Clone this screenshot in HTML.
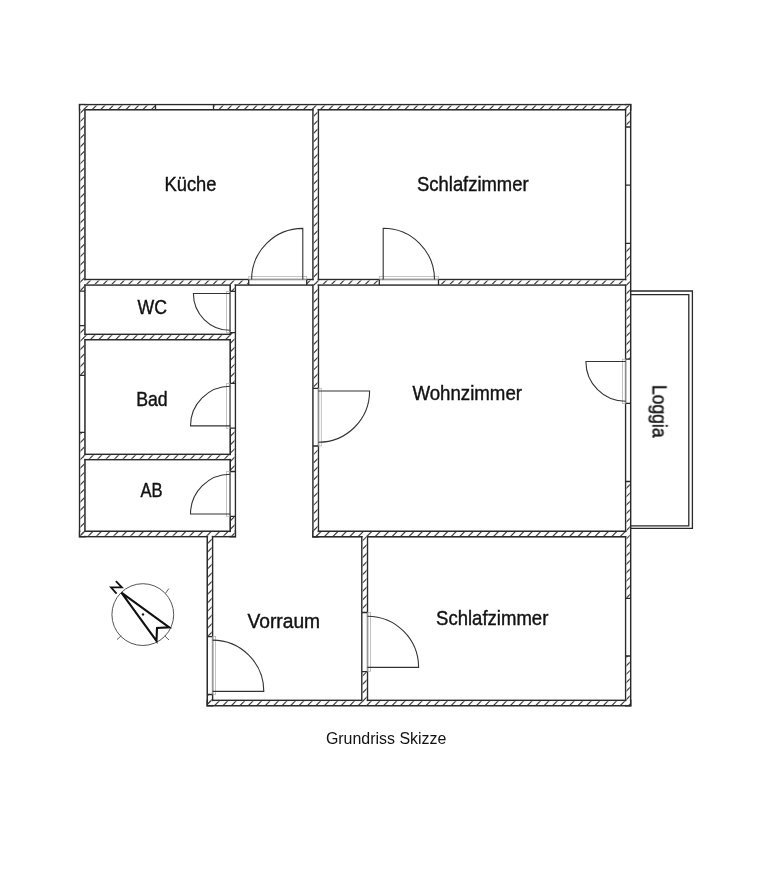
<!DOCTYPE html><html><head><meta charset="utf-8"><style>html,body{margin:0;padding:0;background:#fff;width:776px;height:894px;overflow:hidden}svg{position:absolute;left:0;top:0}</style></head><body><svg width="776" height="894" viewBox="0 0 776 894"><defs><clipPath id="c0"><rect x="80.45" y="105.50" width="75.05" height="3.45"/><rect x="213.50" y="105.50" width="416.30" height="3.45"/></clipPath><clipPath id="c1"><rect x="80.45" y="105.50" width="3.65" height="185.70"/><rect x="80.45" y="325.70" width="3.65" height="49.70"/><rect x="80.45" y="432.40" width="3.65" height="103.40"/></clipPath><clipPath id="c2"><rect x="626.50" y="105.50" width="3.30" height="21.50"/><rect x="626.50" y="243.40" width="3.30" height="115.80"/><rect x="626.50" y="481.50" width="3.30" height="116.80"/><rect x="626.50" y="656.00" width="3.30" height="48.90"/></clipPath><clipPath id="c3"><rect x="208.10" y="701.20" width="421.70" height="3.70"/></clipPath><clipPath id="c4"><rect x="80.45" y="532.10" width="154.05" height="3.70"/></clipPath><clipPath id="c5"><rect x="208.10" y="534.80" width="3.60" height="101.80"/><rect x="208.10" y="694.50" width="3.60" height="10.40"/></clipPath><clipPath id="c6"><rect x="313.80" y="108.00" width="3.70" height="173.50"/></clipPath><clipPath id="c7"><rect x="83.10" y="280.40" width="165.60" height="3.80"/><rect x="306.70" y="280.40" width="72.60" height="3.80"/><rect x="438.50" y="280.40" width="188.80" height="3.80"/></clipPath><clipPath id="c8"><rect x="231.00" y="283.10" width="3.50" height="8.30"/><rect x="231.00" y="332.60" width="3.50" height="50.80"/><rect x="231.00" y="428.20" width="3.50" height="43.30"/><rect x="231.00" y="516.30" width="3.50" height="19.50"/></clipPath><clipPath id="c9"><rect x="313.80" y="283.10" width="3.75" height="105.20"/><rect x="313.80" y="446.00" width="3.75" height="90.00"/></clipPath><clipPath id="c10"><rect x="83.10" y="335.20" width="148.85" height="3.70"/></clipPath><clipPath id="c11"><rect x="83.10" y="455.20" width="148.85" height="3.60"/></clipPath><clipPath id="c12"><rect x="313.80" y="532.10" width="313.50" height="3.90"/></clipPath><clipPath id="c13"><rect x="362.70" y="534.85" width="3.90" height="77.65"/><rect x="362.70" y="671.60" width="3.90" height="30.65"/></clipPath></defs><rect width="776" height="894" fill="#fff"/><g fill="none" stroke="#2a2a2a" stroke-width="1.6"><rect x="79.65" y="104.70" width="550.95" height="5.05"/><rect x="79.65" y="104.70" width="5.25" height="431.90"/><rect x="625.70" y="104.70" width="4.90" height="601.00"/><rect x="207.30" y="700.40" width="423.30" height="5.30"/><rect x="79.65" y="531.30" width="155.65" height="5.30"/><rect x="207.30" y="534.00" width="5.20" height="171.70"/><rect x="313.00" y="107.20" width="5.30" height="175.10"/><rect x="82.30" y="279.60" width="545.80" height="5.40"/><rect x="230.20" y="282.30" width="5.10" height="254.30"/><rect x="313.00" y="282.30" width="5.35" height="254.50"/><rect x="82.30" y="334.40" width="150.45" height="5.30"/><rect x="82.30" y="454.40" width="150.45" height="5.20"/><rect x="313.00" y="531.30" width="315.10" height="5.50"/><rect x="361.90" y="534.05" width="5.50" height="169.00"/></g><g fill="#fff"><rect x="80.45" y="105.50" width="549.35" height="3.45"/><rect x="80.45" y="105.50" width="3.65" height="430.30"/><rect x="626.50" y="105.50" width="3.30" height="599.40"/><rect x="208.10" y="701.20" width="421.70" height="3.70"/><rect x="80.45" y="532.10" width="154.05" height="3.70"/><rect x="208.10" y="534.80" width="3.60" height="170.10"/><rect x="313.80" y="108.00" width="3.70" height="173.50"/><rect x="83.10" y="280.40" width="544.20" height="3.80"/><rect x="231.00" y="283.10" width="3.50" height="252.70"/><rect x="313.80" y="283.10" width="3.75" height="252.90"/><rect x="83.10" y="335.20" width="148.85" height="3.70"/><rect x="83.10" y="455.20" width="148.85" height="3.60"/><rect x="313.80" y="532.10" width="313.50" height="3.90"/><rect x="362.70" y="534.85" width="3.90" height="167.40"/></g><g fill="none" stroke="#444" stroke-width="1.2"><path clip-path="url(#c0)" d="M56.20,111.75L65.25,102.70M64.65,111.75L73.70,102.70M73.11,111.75L82.16,102.70M81.56,111.75L90.61,102.70M90.01,111.75L99.06,102.70M98.46,111.75L107.51,102.70M106.91,111.75L115.96,102.70M115.36,111.75L124.41,102.70M123.82,111.75L132.87,102.70M132.27,111.75L141.32,102.70M140.72,111.75L149.77,102.70M149.17,111.75L158.22,102.70M157.62,111.75L166.67,102.70M166.07,111.75L175.12,102.70M174.53,111.75L183.58,102.70M182.98,111.75L192.03,102.70M191.43,111.75L200.48,102.70M199.88,111.75L208.93,102.70M208.33,111.75L217.38,102.70M216.78,111.75L225.83,102.70M225.24,111.75L234.29,102.70M233.69,111.75L242.74,102.70M242.14,111.75L251.19,102.70M250.59,111.75L259.64,102.70M259.04,111.75L268.09,102.70M267.49,111.75L276.54,102.70M275.95,111.75L285.00,102.70M284.40,111.75L293.45,102.70M292.85,111.75L301.90,102.70M301.30,111.75L310.35,102.70M309.75,111.75L318.80,102.70M318.21,111.75L327.26,102.70M326.66,111.75L335.71,102.70M335.11,111.75L344.16,102.70M343.56,111.75L352.61,102.70M352.01,111.75L361.06,102.70M360.46,111.75L369.51,102.70M368.92,111.75L377.97,102.70M377.37,111.75L386.42,102.70M385.82,111.75L394.87,102.70M394.27,111.75L403.32,102.70M402.72,111.75L411.77,102.70M411.17,111.75L420.22,102.70M419.63,111.75L428.68,102.70M428.08,111.75L437.13,102.70M436.53,111.75L445.58,102.70M444.98,111.75L454.03,102.70M453.43,111.75L462.48,102.70M461.88,111.75L470.93,102.70M470.34,111.75L479.39,102.70M478.79,111.75L487.84,102.70M487.24,111.75L496.29,102.70M495.69,111.75L504.74,102.70M504.14,111.75L513.19,102.70M512.59,111.75L521.64,102.70M521.05,111.75L530.10,102.70M529.50,111.75L538.55,102.70M537.95,111.75L547.00,102.70M546.40,111.75L555.45,102.70M554.85,111.75L563.90,102.70M563.30,111.75L572.35,102.70M571.76,111.75L580.81,102.70M580.21,111.75L589.26,102.70M588.66,111.75L597.71,102.70M597.11,111.75L606.16,102.70M605.56,111.75L614.61,102.70M614.01,111.75L623.06,102.70M622.47,111.75L631.52,102.70M630.92,111.75L639.97,102.70M639.37,111.75L648.42,102.70"/><path clip-path="url(#c1)" d="M-370.65,538.60L65.25,102.70M-362.20,538.60L73.70,102.70M-353.74,538.60L82.16,102.70M-345.29,538.60L90.61,102.70M-336.84,538.60L99.06,102.70M-328.39,538.60L107.51,102.70M-319.94,538.60L115.96,102.70M-311.49,538.60L124.41,102.70M-303.03,538.60L132.87,102.70M-294.58,538.60L141.32,102.70M-286.13,538.60L149.77,102.70M-277.68,538.60L158.22,102.70M-269.23,538.60L166.67,102.70M-260.78,538.60L175.12,102.70M-252.32,538.60L183.58,102.70M-243.87,538.60L192.03,102.70M-235.42,538.60L200.48,102.70M-226.97,538.60L208.93,102.70M-218.52,538.60L217.38,102.70M-210.07,538.60L225.83,102.70M-201.61,538.60L234.29,102.70M-193.16,538.60L242.74,102.70M-184.71,538.60L251.19,102.70M-176.26,538.60L259.64,102.70M-167.81,538.60L268.09,102.70M-159.36,538.60L276.54,102.70M-150.90,538.60L285.00,102.70M-142.45,538.60L293.45,102.70M-134.00,538.60L301.90,102.70M-125.55,538.60L310.35,102.70M-117.10,538.60L318.80,102.70M-108.64,538.60L327.26,102.70M-100.19,538.60L335.71,102.70M-91.74,538.60L344.16,102.70M-83.29,538.60L352.61,102.70M-74.84,538.60L361.06,102.70M-66.39,538.60L369.51,102.70M-57.93,538.60L377.97,102.70M-49.48,538.60L386.42,102.70M-41.03,538.60L394.87,102.70M-32.58,538.60L403.32,102.70M-24.13,538.60L411.77,102.70M-15.68,538.60L420.22,102.70M-7.22,538.60L428.68,102.70M1.23,538.60L437.13,102.70M9.68,538.60L445.58,102.70M18.13,538.60L454.03,102.70M26.58,538.60L462.48,102.70M35.03,538.60L470.93,102.70M43.49,538.60L479.39,102.70M51.94,538.60L487.84,102.70M60.39,538.60L496.29,102.70M68.84,538.60L504.74,102.70M77.29,538.60L513.19,102.70M85.74,538.60L521.64,102.70M94.20,538.60L530.10,102.70"/><path clip-path="url(#c2)" d="M9.61,707.70L614.61,102.70M18.06,707.70L623.06,102.70M26.52,707.70L631.52,102.70M34.97,707.70L639.97,102.70M43.42,707.70L648.42,102.70M51.87,707.70L656.87,102.70M60.32,707.70L665.32,102.70M68.77,707.70L673.77,102.70M77.23,707.70L682.23,102.70M85.68,707.70L690.68,102.70M94.13,707.70L699.13,102.70M102.58,707.70L707.58,102.70M111.03,707.70L716.03,102.70M119.48,707.70L724.48,102.70M127.94,707.70L732.94,102.70M136.39,707.70L741.39,102.70M144.84,707.70L749.84,102.70M153.29,707.70L758.29,102.70M161.74,707.70L766.74,102.70M170.20,707.70L775.20,102.70M178.65,707.70L783.65,102.70M187.10,707.70L792.10,102.70M195.55,707.70L800.55,102.70M204.00,707.70L809.00,102.70M212.45,707.70L817.45,102.70M220.91,707.70L825.91,102.70M229.36,707.70L834.36,102.70M237.81,707.70L842.81,102.70M246.26,707.70L851.26,102.70M254.71,707.70L859.71,102.70M263.16,707.70L868.16,102.70M271.62,707.70L876.62,102.70M280.07,707.70L885.07,102.70M288.52,707.70L893.52,102.70M296.97,707.70L901.97,102.70M305.42,707.70L910.42,102.70M313.87,707.70L918.87,102.70M322.33,707.70L927.33,102.70M330.78,707.70L935.78,102.70M339.23,707.70L944.23,102.70M347.68,707.70L952.68,102.70M356.13,707.70L961.13,102.70M364.58,707.70L969.58,102.70M373.04,707.70L978.04,102.70M381.49,707.70L986.49,102.70M389.94,707.70L994.94,102.70M398.39,707.70L1003.39,102.70M406.84,707.70L1011.84,102.70M415.29,707.70L1020.29,102.70M423.75,707.70L1028.75,102.70M432.20,707.70L1037.20,102.70M440.65,707.70L1045.65,102.70M449.10,707.70L1054.10,102.70M457.55,707.70L1062.55,102.70M466.00,707.70L1071.00,102.70M474.46,707.70L1079.46,102.70M482.91,707.70L1087.91,102.70M491.36,707.70L1096.36,102.70M499.81,707.70L1104.81,102.70M508.26,707.70L1113.26,102.70M516.71,707.70L1121.71,102.70M525.17,707.70L1130.17,102.70M533.62,707.70L1138.62,102.70M542.07,707.70L1147.07,102.70M550.52,707.70L1155.52,102.70M558.97,707.70L1163.97,102.70M567.42,707.70L1172.42,102.70M575.88,707.70L1180.88,102.70M584.33,707.70L1189.33,102.70M592.78,707.70L1197.78,102.70M601.23,707.70L1206.23,102.70M609.68,707.70L1214.68,102.70M618.14,707.70L1223.14,102.70M626.59,707.70L1231.59,102.70M635.04,707.70L1240.04,102.70M643.49,707.70L1248.49,102.70"/><path clip-path="url(#c3)" d="M187.10,707.70L196.40,698.40M195.55,707.70L204.85,698.40M204.00,707.70L213.30,698.40M212.45,707.70L221.75,698.40M220.91,707.70L230.21,698.40M229.36,707.70L238.66,698.40M237.81,707.70L247.11,698.40M246.26,707.70L255.56,698.40M254.71,707.70L264.01,698.40M263.16,707.70L272.46,698.40M271.62,707.70L280.92,698.40M280.07,707.70L289.37,698.40M288.52,707.70L297.82,698.40M296.97,707.70L306.27,698.40M305.42,707.70L314.72,698.40M313.87,707.70L323.17,698.40M322.33,707.70L331.63,698.40M330.78,707.70L340.08,698.40M339.23,707.70L348.53,698.40M347.68,707.70L356.98,698.40M356.13,707.70L365.43,698.40M364.58,707.70L373.88,698.40M373.04,707.70L382.34,698.40M381.49,707.70L390.79,698.40M389.94,707.70L399.24,698.40M398.39,707.70L407.69,698.40M406.84,707.70L416.14,698.40M415.29,707.70L424.59,698.40M423.75,707.70L433.05,698.40M432.20,707.70L441.50,698.40M440.65,707.70L449.95,698.40M449.10,707.70L458.40,698.40M457.55,707.70L466.85,698.40M466.00,707.70L475.30,698.40M474.46,707.70L483.76,698.40M482.91,707.70L492.21,698.40M491.36,707.70L500.66,698.40M499.81,707.70L509.11,698.40M508.26,707.70L517.56,698.40M516.71,707.70L526.01,698.40M525.17,707.70L534.47,698.40M533.62,707.70L542.92,698.40M542.07,707.70L551.37,698.40M550.52,707.70L559.82,698.40M558.97,707.70L568.27,698.40M567.42,707.70L576.73,698.40M575.88,707.70L585.18,698.40M584.33,707.70L593.63,698.40M592.78,707.70L602.08,698.40M601.23,707.70L610.53,698.40M609.68,707.70L618.98,698.40M618.14,707.70L627.44,698.40M626.59,707.70L635.89,698.40M635.04,707.70L644.34,698.40M643.49,707.70L652.79,698.40"/><path clip-path="url(#c4)" d="M60.39,538.60L69.69,529.30M68.84,538.60L78.14,529.30M77.29,538.60L86.59,529.30M85.74,538.60L95.04,529.30M94.20,538.60L103.50,529.30M102.65,538.60L111.95,529.30M111.10,538.60L120.40,529.30M119.55,538.60L128.85,529.30M128.00,538.60L137.30,529.30M136.45,538.60L145.75,529.30M144.91,538.60L154.21,529.30M153.36,538.60L162.66,529.30M161.81,538.60L171.11,529.30M170.26,538.60L179.56,529.30M178.71,538.60L188.01,529.30M187.16,538.60L196.46,529.30M195.62,538.60L204.92,529.30M204.07,538.60L213.37,529.30M212.52,538.60L221.82,529.30M220.97,538.60L230.27,529.30M229.42,538.60L238.72,529.30M237.87,538.60L247.17,529.30M246.33,538.60L255.63,529.30"/><path clip-path="url(#c5)" d="M18.06,707.70L193.76,532.00M26.52,707.70L202.22,532.00M34.97,707.70L210.67,532.00M43.42,707.70L219.12,532.00M51.87,707.70L227.57,532.00M60.32,707.70L236.02,532.00M68.77,707.70L244.47,532.00M77.23,707.70L252.93,532.00M85.68,707.70L261.38,532.00M94.13,707.70L269.83,532.00M102.58,707.70L278.28,532.00M111.03,707.70L286.73,532.00M119.48,707.70L295.18,532.00M127.94,707.70L303.64,532.00M136.39,707.70L312.09,532.00M144.84,707.70L320.54,532.00M153.29,707.70L328.99,532.00M161.74,707.70L337.44,532.00M170.20,707.70L345.90,532.00M178.65,707.70L354.35,532.00M187.10,707.70L362.80,532.00M195.55,707.70L371.25,532.00M204.00,707.70L379.70,532.00M212.45,707.70L388.15,532.00M220.91,707.70L396.61,532.00"/><path clip-path="url(#c6)" d="M120.30,284.30L299.40,105.20M128.75,284.30L307.85,105.20M137.20,284.30L316.30,105.20M145.66,284.30L324.76,105.20M154.11,284.30L333.21,105.20M162.56,284.30L341.66,105.20M171.01,284.30L350.11,105.20M179.46,284.30L358.56,105.20M187.91,284.30L367.01,105.20M196.37,284.30L375.47,105.20M204.82,284.30L383.92,105.20M213.27,284.30L392.37,105.20M221.72,284.30L400.82,105.20M230.17,284.30L409.27,105.20M238.62,284.30L417.72,105.20M247.08,284.30L426.18,105.20M255.53,284.30L434.63,105.20M263.98,284.30L443.08,105.20M272.43,284.30L451.53,105.20M280.88,284.30L459.98,105.20M289.33,284.30L468.43,105.20M297.79,284.30L476.89,105.20M306.24,284.30L485.34,105.20M314.69,284.30L493.79,105.20M323.14,284.30L502.24,105.20M331.59,284.30L510.69,105.20"/><path clip-path="url(#c7)" d="M58.44,287.00L67.84,277.60M66.89,287.00L76.29,277.60M75.34,287.00L84.74,277.60M83.79,287.00L93.19,277.60M92.24,287.00L101.64,277.60M100.70,287.00L110.10,277.60M109.15,287.00L118.55,277.60M117.60,287.00L127.00,277.60M126.05,287.00L135.45,277.60M134.50,287.00L143.90,277.60M142.96,287.00L152.36,277.60M151.41,287.00L160.81,277.60M159.86,287.00L169.26,277.60M168.31,287.00L177.71,277.60M176.76,287.00L186.16,277.60M185.21,287.00L194.61,277.60M193.67,287.00L203.07,277.60M202.12,287.00L211.52,277.60M210.57,287.00L219.97,277.60M219.02,287.00L228.42,277.60M227.47,287.00L236.87,277.60M235.92,287.00L245.32,277.60M244.38,287.00L253.78,277.60M252.83,287.00L262.23,277.60M261.28,287.00L270.68,277.60M269.73,287.00L279.13,277.60M278.18,287.00L287.58,277.60M286.63,287.00L296.03,277.60M295.09,287.00L304.49,277.60M303.54,287.00L312.94,277.60M311.99,287.00L321.39,277.60M320.44,287.00L329.84,277.60M328.89,287.00L338.29,277.60M337.34,287.00L346.74,277.60M345.80,287.00L355.20,277.60M354.25,287.00L363.65,277.60M362.70,287.00L372.10,277.60M371.15,287.00L380.55,277.60M379.60,287.00L389.00,277.60M388.05,287.00L397.45,277.60M396.51,287.00L405.91,277.60M404.96,287.00L414.36,277.60M413.41,287.00L422.81,277.60M421.86,287.00L431.26,277.60M430.31,287.00L439.71,277.60M438.76,287.00L448.16,277.60M447.22,287.00L456.62,277.60M455.67,287.00L465.07,277.60M464.12,287.00L473.52,277.60M472.57,287.00L481.97,277.60M481.02,287.00L490.42,277.60M489.47,287.00L498.87,277.60M497.93,287.00L507.33,277.60M506.38,287.00L515.78,277.60M514.83,287.00L524.23,277.60M523.28,287.00L532.68,277.60M531.73,287.00L541.13,277.60M540.18,287.00L549.58,277.60M548.64,287.00L558.04,277.60M557.09,287.00L566.49,277.60M565.54,287.00L574.94,277.60M573.99,287.00L583.39,277.60M582.44,287.00L591.84,277.60M590.90,287.00L600.30,277.60M599.35,287.00L608.75,277.60M607.80,287.00L617.20,277.60M616.25,287.00L625.65,277.60M624.70,287.00L634.10,277.60M633.15,287.00L642.55,277.60M641.61,287.00L651.01,277.60"/><path clip-path="url(#c8)" d="M-41.03,538.60L217.27,280.30M-32.58,538.60L225.72,280.30M-24.13,538.60L234.17,280.30M-15.68,538.60L242.62,280.30M-7.22,538.60L251.08,280.30M1.23,538.60L259.53,280.30M9.68,538.60L267.98,280.30M18.13,538.60L276.43,280.30M26.58,538.60L284.88,280.30M35.03,538.60L293.33,280.30M43.49,538.60L301.79,280.30M51.94,538.60L310.24,280.30M60.39,538.60L318.69,280.30M68.84,538.60L327.14,280.30M77.29,538.60L335.59,280.30M85.74,538.60L344.04,280.30M94.20,538.60L352.50,280.30M102.65,538.60L360.95,280.30M111.10,538.60L369.40,280.30M119.55,538.60L377.85,280.30M128.00,538.60L386.30,280.30M136.45,538.60L394.75,280.30M144.91,538.60L403.21,280.30M153.36,538.60L411.66,280.30M161.81,538.60L420.11,280.30M170.26,538.60L428.56,280.30M178.71,538.60L437.01,280.30M187.16,538.60L445.46,280.30M195.62,538.60L453.92,280.30M204.07,538.60L462.37,280.30M212.52,538.60L470.82,280.30M220.97,538.60L479.27,280.30M229.42,538.60L487.72,280.30M237.87,538.60L496.17,280.30M246.33,538.60L504.63,280.30"/><path clip-path="url(#c9)" d="M43.29,538.80L301.79,280.30M51.74,538.80L310.24,280.30M60.19,538.80L318.69,280.30M68.64,538.80L327.14,280.30M77.09,538.80L335.59,280.30M85.54,538.80L344.04,280.30M94.00,538.80L352.50,280.30M102.45,538.80L360.95,280.30M110.90,538.80L369.40,280.30M119.35,538.80L377.85,280.30M127.80,538.80L386.30,280.30M136.25,538.80L394.75,280.30M144.71,538.80L403.21,280.30M153.16,538.80L411.66,280.30M161.61,538.80L420.11,280.30M170.06,538.80L428.56,280.30M178.51,538.80L437.01,280.30M186.96,538.80L445.46,280.30M195.42,538.80L453.92,280.30M203.87,538.80L462.37,280.30M212.32,538.80L470.82,280.30M220.77,538.80L479.27,280.30M229.22,538.80L487.72,280.30M237.67,538.80L496.17,280.30M246.13,538.80L504.63,280.30M254.58,538.80L513.08,280.30M263.03,538.80L521.53,280.30M271.48,538.80L529.98,280.30M279.93,538.80L538.43,280.30M288.38,538.80L546.88,280.30M296.84,538.80L555.34,280.30M305.29,538.80L563.79,280.30M313.74,538.80L572.24,280.30M322.19,538.80L580.69,280.30M330.64,538.80L589.14,280.30"/><path clip-path="url(#c10)" d="M62.90,341.70L72.20,332.40M71.35,341.70L80.65,332.40M79.80,341.70L89.10,332.40M88.26,341.70L97.56,332.40M96.71,341.70L106.01,332.40M105.16,341.70L114.46,332.40M113.61,341.70L122.91,332.40M122.06,341.70L131.36,332.40M130.51,341.70L139.81,332.40M138.97,341.70L148.27,332.40M147.42,341.70L156.72,332.40M155.87,341.70L165.17,332.40M164.32,341.70L173.62,332.40M172.77,341.70L182.07,332.40M181.22,341.70L190.52,332.40M189.68,341.70L198.98,332.40M198.13,341.70L207.43,332.40M206.58,341.70L215.88,332.40M215.03,341.70L224.33,332.40M223.48,341.70L232.78,332.40M231.93,341.70L241.23,332.40M240.39,341.70L249.69,332.40"/><path clip-path="url(#c11)" d="M61.32,461.60L70.52,452.40M69.78,461.60L78.98,452.40M78.23,461.60L87.43,452.40M86.68,461.60L95.88,452.40M95.13,461.60L104.33,452.40M103.58,461.60L112.78,452.40M112.03,461.60L121.23,452.40M120.49,461.60L129.69,452.40M128.94,461.60L138.14,452.40M137.39,461.60L146.59,452.40M145.84,461.60L155.04,452.40M154.29,461.60L163.49,452.40M162.74,461.60L171.94,452.40M171.20,461.60L180.40,452.40M179.65,461.60L188.85,452.40M188.10,461.60L197.30,452.40M196.55,461.60L205.75,452.40M205.00,461.60L214.20,452.40M213.45,461.60L222.65,452.40M221.91,461.60L231.11,452.40M230.36,461.60L239.56,452.40M238.81,461.60L248.01,452.40M247.26,461.60L256.46,452.40"/><path clip-path="url(#c12)" d="M296.84,538.80L306.34,529.30M305.29,538.80L314.79,529.30M313.74,538.80L323.24,529.30M322.19,538.80L331.69,529.30M330.64,538.80L340.14,529.30M339.10,538.80L348.60,529.30M347.55,538.80L357.05,529.30M356.00,538.80L365.50,529.30M364.45,538.80L373.95,529.30M372.90,538.80L382.40,529.30M381.35,538.80L390.85,529.30M389.81,538.80L399.31,529.30M398.26,538.80L407.76,529.30M406.71,538.80L416.21,529.30M415.16,538.80L424.66,529.30M423.61,538.80L433.11,529.30M432.06,538.80L441.56,529.30M440.52,538.80L450.02,529.30M448.97,538.80L458.47,529.30M457.42,538.80L466.92,529.30M465.87,538.80L475.37,529.30M474.32,538.80L483.82,529.30M482.77,538.80L492.27,529.30M491.23,538.80L500.73,529.30M499.68,538.80L509.18,529.30M508.13,538.80L517.63,529.30M516.58,538.80L526.08,529.30M525.03,538.80L534.53,529.30M533.48,538.80L542.98,529.30M541.94,538.80L551.44,529.30M550.39,538.80L559.89,529.30M558.84,538.80L568.34,529.30M567.29,538.80L576.79,529.30M575.74,538.80L585.24,529.30M584.19,538.80L593.69,529.30M592.65,538.80L602.15,529.30M601.10,538.80L610.60,529.30M609.55,538.80L619.05,529.30M618.00,538.80L627.50,529.30M626.45,538.80L635.95,529.30M634.90,538.80L644.40,529.30"/><path clip-path="url(#c13)" d="M181.30,705.05L354.30,532.05M189.75,705.05L362.75,532.05M198.20,705.05L371.20,532.05M206.65,705.05L379.65,532.05M215.10,705.05L388.10,532.05M223.56,705.05L396.56,532.05M232.01,705.05L405.01,532.05M240.46,705.05L413.46,532.05M248.91,705.05L421.91,532.05M257.36,705.05L430.36,532.05M265.81,705.05L438.81,532.05M274.27,705.05L447.27,532.05M282.72,705.05L455.72,532.05M291.17,705.05L464.17,532.05M299.62,705.05L472.62,532.05M308.07,705.05L481.07,532.05M316.52,705.05L489.52,532.05M324.98,705.05L497.98,532.05M333.43,705.05L506.43,532.05M341.88,705.05L514.88,532.05M350.33,705.05L523.33,532.05M358.78,705.05L531.78,532.05M367.23,705.05L540.23,532.05M375.69,705.05L548.69,532.05"/></g><g fill="none" stroke="#b4b4b4" stroke-width="0.8"><rect x="248.70" y="276.40" width="58.00" height="3.20"/><rect x="379.30" y="276.40" width="59.20" height="3.20"/><rect x="226.60" y="291.40" width="3.60" height="41.20"/><rect x="226.60" y="383.40" width="3.60" height="44.80"/><rect x="226.60" y="471.50" width="3.60" height="44.80"/><rect x="318.35" y="388.30" width="2.95" height="57.70"/><rect x="622.50" y="359.20" width="3.20" height="44.20"/><rect x="212.50" y="636.60" width="3.10" height="57.90"/><rect x="367.40" y="612.50" width="3.00" height="59.10"/></g><path fill="none" stroke="#2a2a2a" stroke-width="1.3" d="M155.50,104.70V109.75M213.50,104.70V109.75M79.65,291.20H84.90M79.65,325.70H84.90M79.65,375.40H84.90M79.65,432.40H84.90M625.70,127.00H630.60M625.70,243.40H630.60M625.70,185.20H630.60M625.70,359.20H630.60M625.70,481.50H630.60M625.70,403.40H630.60M625.70,598.30H630.60M625.70,656.00H630.60M248.70,279.60V285.00M306.70,279.60V285.00M379.30,279.60V285.00M438.50,279.60V285.00M230.20,291.40H235.30M230.20,332.60H235.30M230.20,383.40H235.30M230.20,428.20H235.30M230.20,471.50H235.30M230.20,516.30H235.30M313.00,388.30H318.35M313.00,446.00H318.35M207.30,636.60H212.50M207.30,694.50H212.50M361.90,612.50H367.40M361.90,671.60H367.40"/><path fill="none" stroke="#2a2a2a" stroke-width="1.3" d="M630.6,291 H692.4 V528.4 H630.6 M630.6,294.6 H688.8 V525.8 H630.6"/><path fill="none" stroke="#333" stroke-width="1.1" d="M302.8,279.6 V228.4 A51.2,51.2 0 0 0 251.6,279.6 M383.2,279.6 V228.3 A51.3,51.3 0 0 1 434.5,279.6 M230.2,293.5 H193.4 A36.8,36.8 0 0 0 230.2,330.3 M230.2,425.9 H190.5 A39.7,39.7 0 0 1 230.2,386.2 M230.2,514.0 H190.5 A39.7,39.7 0 0 1 230.2,474.3 M318.35,391 H369.6 A51.25,51.25 0 0 1 318.35,442.25 M625.7,361.5 H585.9 A39.8,39.8 0 0 0 625.7,401.3 M212.5,691.4 H263.8 A51.3,51.3 0 0 0 212.5,640.1 M367.4,667.4 H418.6 A51.2,51.2 0 0 0 367.4,616.2 "/><circle cx="142.8" cy="614.6" r="30.9" fill="none" stroke="#555" stroke-width="1"/><path fill="none" stroke="#666" stroke-width="1" d="M165.7,593 L168.9,588.6 M117,639.6 L121.3,635.7 M164.6,635.7 L169,640"/><path fill="none" stroke="#111" stroke-width="2.1" stroke-linejoin="miter" d="M121.4,592.6 L169.2,627.3 L157.0,628.0 L156.5,640.9 Z"/><circle cx="143" cy="614.4" r="1.2" fill="#111"/><path fill="none" stroke="#111" stroke-width="1.8" d="M115.9,581.1 L121.9,587.4 L111.0,587.4 L116.6,593.7"/><g font-family="Liberation Sans, sans-serif" fill="#111" stroke="#111" stroke-width="0.4" style="opacity:0.995"><text transform="translate(164.51,191.00) rotate(0) scale(0.9404,1)" font-size="19.50">Küche</text><text transform="translate(417.07,191.00) rotate(0) scale(0.9448,1)" font-size="19.50">Schlafzimmer</text><text transform="translate(412.39,400.00) rotate(0) scale(0.9580,1)" font-size="19.50">Wohnzimmer</text><text transform="translate(436.07,625.00) rotate(0) scale(0.9511,1)" font-size="19.50">Schlafzimmer</text><text transform="translate(247.47,628.00) rotate(0) scale(0.9865,1)" font-size="19.50">Vorraum</text><text transform="translate(137.45,314.00) rotate(0) scale(0.9068,1)" font-size="19.50">WC</text><text transform="translate(136.18,406.00) rotate(0) scale(0.9099,1)" font-size="19.50">Bad</text><text transform="translate(140.51,497.00) rotate(0) scale(0.8505,1)" font-size="19.50">AB</text><text transform="translate(652.58,384.78) rotate(90) scale(0.9047,1)" font-size="19.50">Loggia</text><text transform="translate(325.91,744.00) rotate(0) scale(0.9964,1)" font-size="16.00" stroke-width="0">Grundriss Skizze</text></g></svg></body></html>
